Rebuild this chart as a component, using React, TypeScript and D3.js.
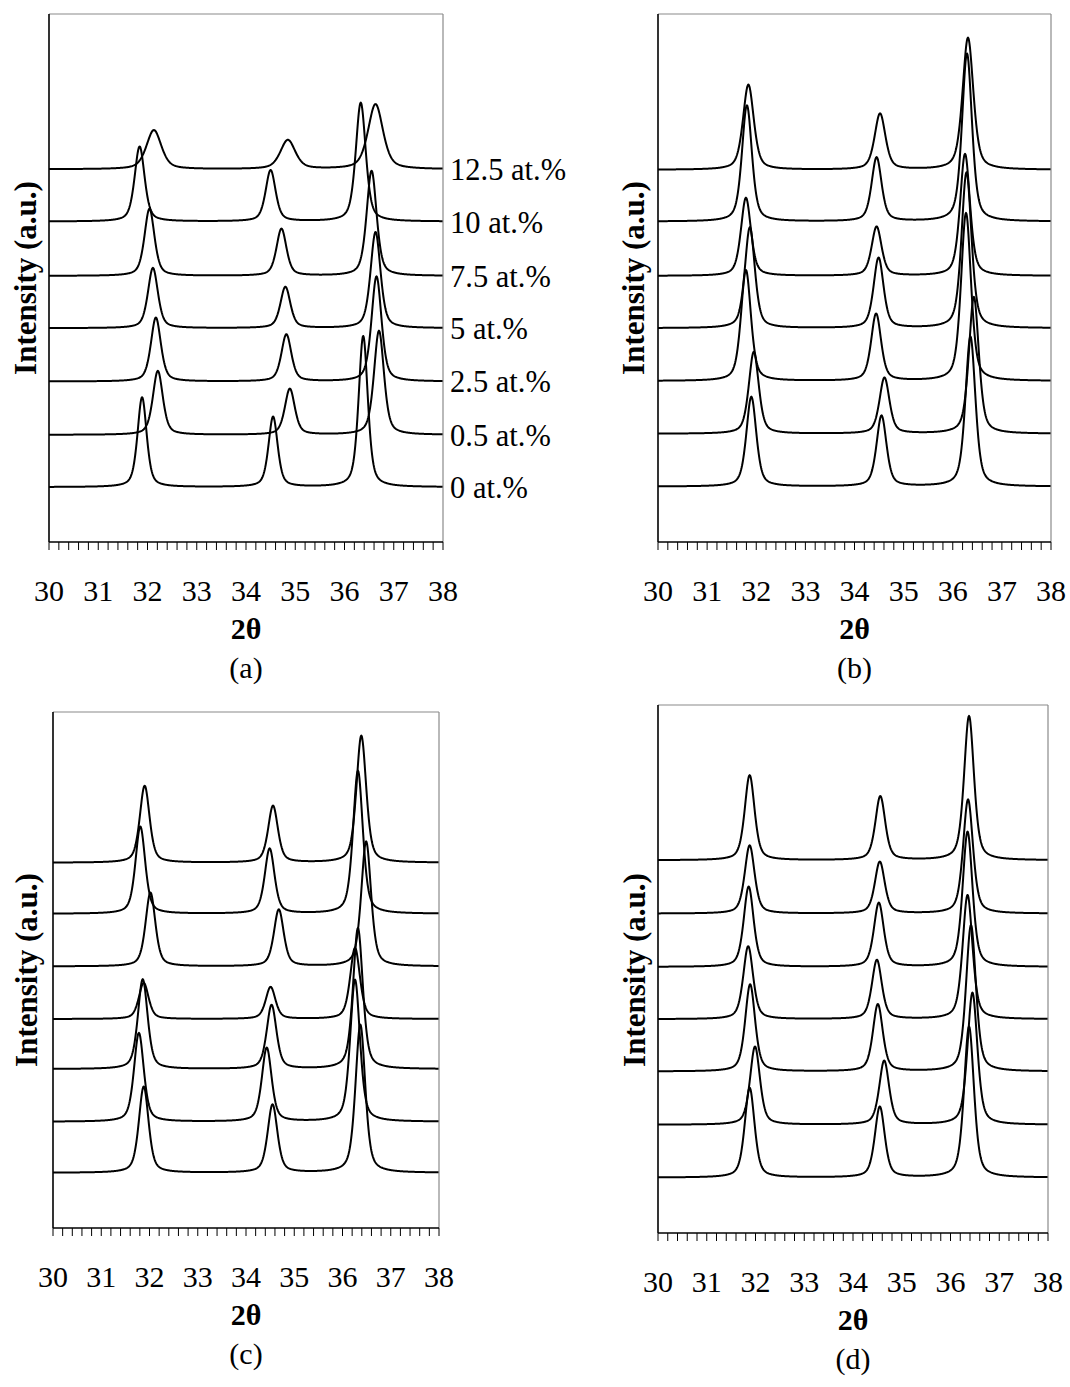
import React from "react";
import * as d3 from "d3";

// ---------- data ----------
const X_TICK_LABELS = [30, 31, 32, 33, 34, 35, 36, 37, 38];
const CONC_LABELS = ["0 at.%", "0.5 at.%", "2.5 at.%", "5 at.%", "7.5 at.%", "10 at.%", "12.5 at.%"];
const PANEL_LETTERS = ["(a)", "(b)", "(c)", "(d)"];
const Y_TITLE = "Intensity (a.u.)";
const X_TITLE = "2θ";

// Panel (a): baselines (a.u., y range 0–100), peak positions (2θ), peak heights (a.u.), FWHM (deg)
const A_BASE = [10.4, 20.3, 30.4, 40.5, 50.4, 60.7, 70.6];
const A_POS = [
  [31.89, 34.55, 36.38],
  [32.21, 34.89, 36.7],
  [32.17, 34.82, 36.65],
  [32.11, 34.8, 36.63],
  [32.04, 34.72, 36.55],
  [31.84, 34.5, 36.33],
  [32.13, 34.85, 36.63],
];
const A_HT = [
  [17.0, 13.3, 28.6],
  [12.1, 8.7, 19.7],
  [12.1, 8.9, 19.9],
  [11.4, 7.8, 18.2],
  [12.7, 8.9, 19.9],
  [14.2, 9.7, 22.5],
  [7.4, 5.5, 12.3],
];
const A_FWHM = [0.22, 0.24, 0.24, 0.24, 0.24, 0.24, 0.36];

// Panel (b)
const B_BASE = [10.5, 20.5, 30.5, 40.5, 50.4, 60.7, 70.5];
const B_POS = [
  [31.9, 34.55, 36.36],
  [31.95, 34.61, 36.43],
  [31.79, 34.44, 36.27],
  [31.87, 34.49, 36.28],
  [31.79, 34.45, 36.25],
  [31.81, 34.45, 36.29],
  [31.84, 34.52, 36.31],
];
const B_HT = [
  [17.0, 13.4, 28.4],
  [15.5, 10.6, 25.9],
  [21.0, 12.7, 31.8],
  [19.1, 13.3, 29.5],
  [14.8, 9.3, 23.1],
  [22.0, 12.1, 31.8],
  [16.1, 10.6, 25.0],
];
const B_FWHM = [0.24, 0.24, 0.24, 0.24, 0.24, 0.24, 0.26];

// Panel (c)
const C_BASE = [10.7, 20.6, 30.8, 40.5, 50.7, 60.9, 70.8];
const C_POS = [
  [31.88, 34.55, 36.37],
  [31.78, 34.43, 36.26],
  [31.86, 34.53, 36.32],
  [31.88, 34.51, 36.26],
  [32.02, 34.68, 36.49],
  [31.81, 34.49, 36.32],
  [31.9, 34.56, 36.39],
];
const C_HT = [
  [16.7, 13.2, 28.7],
  [17.2, 14.3, 27.5],
  [17.4, 12.4, 27.3],
  [7.0, 6.2, 13.8],
  [14.3, 11.0, 24.2],
  [16.9, 12.6, 27.7],
  [14.9, 11.0, 24.6],
];
const C_FWHM = [0.24, 0.24, 0.24, 0.24, 0.24, 0.24, 0.24];

// Panel (d)
const D_BASE = [10.5, 20.5, 30.6, 40.5, 50.4, 60.5, 70.6];
const D_POS = [
  [31.88, 34.55, 36.38],
  [31.99, 34.64, 36.45],
  [31.89, 34.51, 36.42],
  [31.85, 34.49, 36.35],
  [31.86, 34.53, 36.35],
  [31.88, 34.55, 36.36],
  [31.88, 34.56, 36.38],
];
const D_HT = [
  [17.0, 13.4, 28.6],
  [14.8, 12.1, 25.0],
  [16.5, 12.7, 27.7],
  [13.8, 11.2, 23.5],
  [15.2, 12.1, 25.6],
  [12.9, 9.8, 21.6],
  [16.1, 12.1, 27.3],
];
const D_FWHM = [0.24, 0.24, 0.24, 0.24, 0.24, 0.24, 0.24];

// ---------- layout ----------
const W = 1070;
const H = 1387;
const FONT = "'Liberation Serif', 'Times New Roman', serif";

const PANELS = [
  { left: 49, right: 443, top: 14, bottom: 542, ylabX: 36, ylabY: 278, base: A_BASE, pos: A_POS, ht: A_HT, fwhm: A_FWHM, conc: true },
  { left: 658, right: 1051, top: 14, bottom: 542, ylabX: 644, ylabY: 278, base: B_BASE, pos: B_POS, ht: B_HT, fwhm: B_FWHM, conc: false },
  { left: 53, right: 439, top: 712, bottom: 1228, ylabX: 37, ylabY: 970, base: C_BASE, pos: C_POS, ht: C_HT, fwhm: C_FWHM, conc: false },
  { left: 658, right: 1048, top: 705, bottom: 1233, ylabX: 645, ylabY: 970, base: D_BASE, pos: D_POS, ht: D_HT, fwhm: D_FWHM, conc: false },
];

const ETA = 0.5;
function profile(x: number, c: number, h: number, w: number) {
  const t = (x - c) / w;
  const L = 1 / (1 + 4 * t * t);
  const G = Math.exp(-4 * Math.LN2 * t * t);
  return h * (ETA * L + (1 - ETA) * G);
}

function Panel({ p, idx }: { p: any; idx: number }) {
  const x = d3.scaleLinear().domain([30, 38]).range([p.left, p.right]);
  const y = d3.scaleLinear().domain([0, 100]).range([p.bottom, p.top]);
  const grid = d3.range(30, 38.0001, 0.01);
  const line = d3
    .line<[number, number]>()
    .x((d) => x(d[0]))
    .y((d) => y(d[1]));
  const minor = x.ticks(40);
  const cx = (p.left + p.right) / 2;

  return (
    <g>
      {p.base.map((b: number, i: number) => {
        const pts: [number, number][] = grid.map((g) => {
          let v = b;
          for (let k = 0; k < p.pos[i].length; k++) v += profile(g, p.pos[i][k], p.ht[i][k], p.fwhm[i]);
          return [g, v];
        });
        return <path key={i} d={line(pts) || ""} fill="none" stroke="#000" strokeWidth={2} strokeLinejoin="round" />;
      })}
      <line x1={p.left} x2={p.right} y1={p.top} y2={p.top} stroke="#8a8a8a" strokeWidth={1.2} />
      <line x1={p.right} x2={p.right} y1={p.top} y2={p.bottom} stroke="#8a8a8a" strokeWidth={1.2} />
      <line x1={p.left} x2={p.left} y1={p.top} y2={p.bottom} stroke="#000" strokeWidth={1.6} />
      <line x1={p.left} x2={p.right} y1={p.bottom} y2={p.bottom} stroke="#000" strokeWidth={1.6} />
      {minor.map((t, i) => (
        <line key={i} x1={x(t)} x2={x(t)} y1={p.bottom} y2={p.bottom + 8} stroke="#000" strokeWidth={1} />
      ))}
      {X_TICK_LABELS.map((t) => (
        <text key={t} x={x(t)} y={p.bottom + 59} textAnchor="middle" fontFamily={FONT} fontSize={30} fill="#000">
          {t}
        </text>
      ))}
      <text x={cx} y={p.bottom + 97} textAnchor="middle" fontFamily={FONT} fontSize={30} fontWeight="bold" fill="#000">
        {X_TITLE}
      </text>
      <text x={cx} y={p.bottom + 136} textAnchor="middle" fontFamily={FONT} fontSize={30} fill="#000">
        {PANEL_LETTERS[idx]}
      </text>
      <text
        transform={`translate(${p.ylabX},${p.ylabY}) rotate(-90)`}
        textAnchor="middle"
        fontFamily={FONT}
        fontSize={31}
        fontWeight="bold"
        fill="#000"
      >
        {Y_TITLE}
      </text>
      {p.conc &&
        p.base.map((b: number, i: number) => (
          <text key={i} x={p.right + 7} y={y(b) + 11} fontFamily={FONT} fontSize={30.5} fill="#000">
            {CONC_LABELS[i]}
          </text>
        ))}
    </g>
  );
}

export default function App() {
  return (
    <div style={{ position: "absolute", left: 0, top: 0, width: W, height: H, background: "#fff" }}>
      <svg width={W} height={H} viewBox={`0 0 ${W} ${H}`} style={{ display: "block" }}>
        <rect x={0} y={0} width={W} height={H} fill="#fff" />
        {PANELS.map((p, i) => (
          <Panel key={i} p={p} idx={i} />
        ))}
      </svg>
    </div>
  );
}
